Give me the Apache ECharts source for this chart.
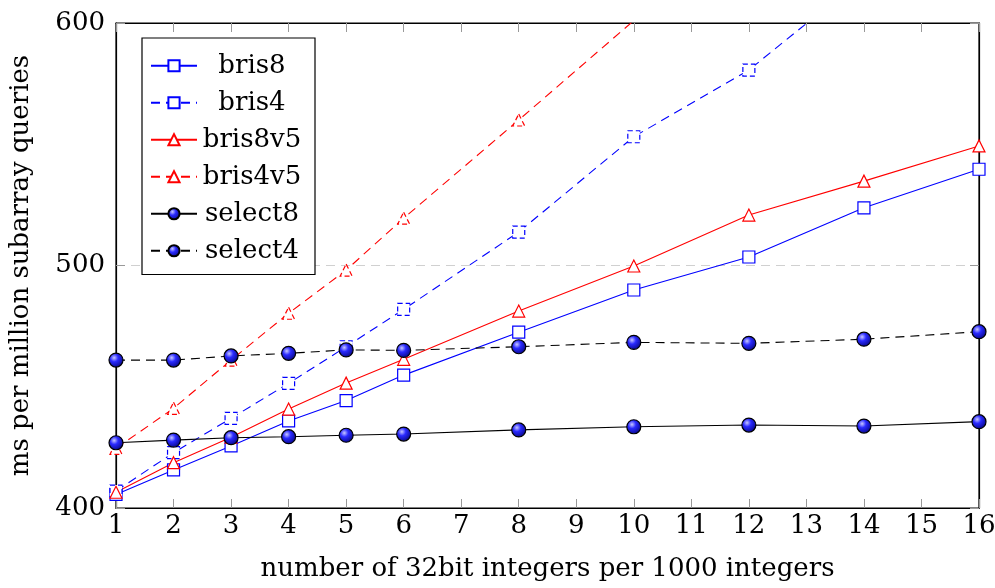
<!DOCTYPE html>
<html>
<head>
<meta charset="utf-8">
<script src="https://cdn.jsdelivr.net/npm/echarts@6/dist/echarts.min.js"></script>
<style>
  html, body { margin: 0; padding: 0; background: #fff; }
  #chart { width: 995px; height: 588px; }
</style>
</head>
<body>
<div id="chart"></div>
<script>
// x positions (number of 32bit integers per 1000 integers)
const xs = [1, 2, 3, 4, 5, 6, 8, 10, 12, 14, 16];

// ms per million subarray queries
const bris8   = [405.6, 415.7, 425.6, 435.9, 444.3, 454.8, 472.5, 489.9, 503.5, 523.8, 539.7];
const bris4   = [407.0, 422.8, 437.0, 451.4, 466.5, 481.9, 513.8, 553.1, 580.6, 619.0, 657.0];
const bris8v5 = [406.5, 418.7, 429.2, 440.8, 451.5, 461.3, 481.2, 499.8, 520.8, 534.8, 549.3];
const bris4v5 = [424.6, 441.1, 461.0, 480.3, 498.1, 519.5, 560.0, 601.0, 640.0, 680.0, 720.0];
const select8 = [426.9, 428.0, 429.0, 429.4, 430.0, 430.5, 432.2, 433.5, 434.2, 433.8, 435.6];
const select4 = [461.0, 461.0, 462.7, 463.8, 465.2, 465.0, 466.5, 468.3, 467.9, 469.6, 472.7];

const yTicks = [400, 500, 600];

const FONT = "'DejaVu Serif', 'Liberation Serif', serif";
const FS = 26;

const pair = arr => xs.map((x, i) => [x, arr[i]]);

const ball = {
  type: "radial", x: 0.38, y: 0.35, r: 0.75,
  colorStops: [
    { offset: 0, color: "#c8c8ff" },
    { offset: 0.35, color: "#2a2aff" },
    { offset: 1, color: "#00006e" },
  ],
};

// axisIdx: 0 = bottom/left pair, 1 = top/right pair (same ranges)
function lineSeries(name, data, color, dashed, symbol, size, fill, axisIdx) {
  return {
    name, type: "line", data: pair(data),
    xAxisIndex: axisIdx || 0, yAxisIndex: axisIdx || 0,
    symbol, symbolSize: size,
    showAllSymbol: true,
    clip: true,
    lineStyle: { color, width: 1.1, type: dashed ? [9, 6] : "solid" },
    itemStyle: {
      color: fill || "#fff",
      borderColor: fill ? "#000" : color,
      borderWidth: 1.2,
      borderType: dashed && !fill ? [5, 3] : "solid",
    },
    emphasis: { disabled: true },
    animation: false,
  };
}

function tick() {
  return { show: true, inside: true, length: 9, lineStyle: { color: "#999", width: 1 } };
}

const chart = echarts.init(document.getElementById("chart"), null, { renderer: "canvas" });

chart.setOption({
  animation: false,
  textStyle: { fontFamily: FONT },
  grid: {
    left: 116, right: 16, top: 23, bottom: 80,
    outerBoundsMode: "none", containLabel: false,
    show: true, borderColor: "#000", borderWidth: 1.2,
  },
  legend: {
    orient: "vertical",
    left: 142, top: 38,
    backgroundColor: "#fff",
    borderColor: "#000", borderWidth: 1.2,
    padding: [13, 13, 9, 8],
    itemGap: 7.5,
    itemWidth: 46, itemHeight: 14,
    formatter: name => "{c|" + name + "}",
    textStyle: {
      fontFamily: FONT, fontSize: FS, color: "#000",
      rich: { c: { width: 100, height: 29.5, lineHeight: 29.5, align: "center", fontFamily: FONT, fontSize: FS, color: "#000" } },
    },
    data: ["bris8", "bris4", "bris8v5", "bris4v5", "select8", "select4"],
  },
  xAxis: [
    {
      type: "value", gridIndex: 0, position: "bottom", min: 1, max: 16, interval: 1,
      name: "number of 32bit integers per 1000 integers",
      nameLocation: "middle", nameGap: 48,
      nameTextStyle: { fontFamily: FONT, fontSize: FS, color: "#000" },
      axisLine: { show: true, onZero: false, lineStyle: { color: "#000", width: 1.2 } },
      axisTick: tick(),
      axisLabel: { fontFamily: FONT, fontSize: FS, color: "#000", margin: 5 },
      splitLine: { show: false },
    },
    {
      type: "value", gridIndex: 0, position: "top", min: 1, max: 16, interval: 1,
      axisLine: { show: true, onZero: false, lineStyle: { color: "#000", width: 1.2 } },
      axisTick: tick(),
      axisLabel: { show: false },
      splitLine: { show: false },
    },
  ],
  yAxis: [
    {
      type: "value", gridIndex: 0, position: "left", min: yTicks[0], max: yTicks[yTicks.length - 1], interval: 100,
      name: "ms per million subarray queries",
      nameLocation: "middle", nameGap: 82,
      nameTextStyle: { fontFamily: FONT, fontSize: FS, color: "#000" },
      axisLine: { show: true, onZero: false, lineStyle: { color: "#000", width: 1.2 } },
      axisTick: tick(),
      axisLabel: { fontFamily: FONT, fontSize: FS, color: "#000", margin: 11 },
      splitLine: { show: true, lineStyle: { color: "#d0d0d0", width: 1.2, type: [9, 6] } },
    },
    {
      type: "value", gridIndex: 0, position: "right", min: yTicks[0], max: yTicks[yTicks.length - 1], interval: 100,
      axisLine: { show: true, onZero: false, lineStyle: { color: "#000", width: 1.2 } },
      axisTick: tick(),
      axisLabel: { show: false },
      splitLine: { show: false },
    },
  ],
  series: [
    lineSeries("bris8", bris8, "#0000ff", false, "rect", 12, null, 0),
    lineSeries("bris4", bris4, "#0000ff", true, "rect", 12, null, 0),
    lineSeries("bris8v5", bris8v5, "#ff0000", false, "triangle", 12, null, 0),
    lineSeries("bris4v5", bris4v5, "#ff0000", true, "triangle", 12, null, 0),
    lineSeries("select8", select8, "#000000", false, "circle", 14, ball, 1),
    lineSeries("select4", select4, "#000000", true, "circle", 14, ball, 1),
  ],
});
</script>
</body>
</html>
